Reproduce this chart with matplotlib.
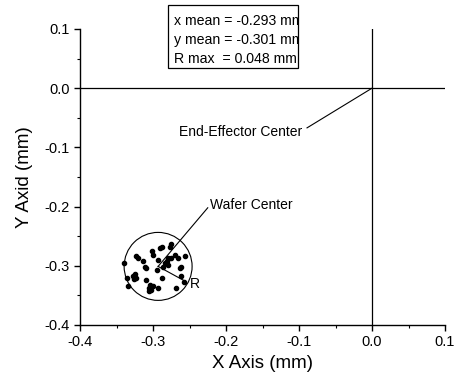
import matplotlib
matplotlib.use("Agg")
import matplotlib.pyplot as plt
from matplotlib.patches import Ellipse, Rectangle

plt.rcParams['font.family'] = ['Liberation Sans', 'DejaVu Sans']
plt.rcParams['axes.unicode_minus'] = False

# measured wafer centre positions (mm)
x_pts = [-0.302, -0.300, -0.323, -0.320, -0.314, -0.340, -0.311, -0.309, -0.325, -0.327,
         -0.323, -0.326, -0.336, -0.310, -0.304, -0.334, -0.306, -0.305, -0.303, -0.300,
         -0.290, -0.287, -0.277, -0.275, -0.270, -0.266, -0.256, -0.279, -0.281, -0.284,
         -0.280, -0.286, -0.293, -0.295, -0.263, -0.261, -0.288, -0.261, -0.257, -0.293,
         -0.268, -0.275]
y_pts = [-0.275, -0.281, -0.283, -0.286, -0.292, -0.296, -0.302, -0.304, -0.314, -0.318,
         -0.320, -0.322, -0.321, -0.324, -0.332, -0.334, -0.338, -0.343, -0.341, -0.334,
         -0.270, -0.268, -0.268, -0.264, -0.281, -0.287, -0.283, -0.287, -0.292, -0.296,
         -0.299, -0.302, -0.290, -0.307, -0.304, -0.302, -0.321, -0.318, -0.327, -0.338,
         -0.338, -0.287]

x_mean = -0.293
y_mean = -0.301
r_max = 0.048

fig = plt.figure(figsize=(4.55, 3.9), dpi=100)
ax = fig.add_axes([80 / 455, 65 / 390, 365 / 455, 296 / 390])

ax.set_xlim(-0.4, 0.1)
ax.set_ylim(-0.4, 0.1)
ax.spines['top'].set_visible(False)
ax.spines['right'].set_visible(False)
for s in ['left', 'bottom']:
    ax.spines[s].set_linewidth(1.0)

ax.set_xticks([-0.4, -0.3, -0.2, -0.1, 0.0, 0.1])
ax.set_yticks([-0.4, -0.3, -0.2, -0.1, 0.0, 0.1])
ax.set_xticks([-0.35, -0.25, -0.15, -0.05, 0.05], minor=True)
ax.set_yticks([-0.35, -0.25, -0.15, -0.05, 0.05], minor=True)
ax.set_xticklabels(["%.1f" % v for v in ax.get_xticks()])
ax.set_yticklabels(["%.1f" % v for v in ax.get_yticks()])
ax.tick_params(which='major', direction='out', length=4, width=1, labelsize=10.5)
ax.tick_params(which='minor', direction='out', length=2, width=0.8)

ax.set_xlabel("X Axis (mm)", fontsize=13.5)
ax.set_ylabel("Y Axid (mm)", fontsize=13.5, labelpad=8)

# crosshair of the end-effector
ax.axhline(0.0, color='black', lw=0.9)
ax.axvline(0.0, color='black', lw=0.9)

ax.scatter(x_pts, y_pts, s=9, color='black', zorder=3)

# circle drawn round in pixels
sx = 365 / 0.5
sy = 296 / 0.5
ax.add_patch(Ellipse((x_mean, y_mean), 2 * r_max * 0.97, 2 * r_max * 0.97 * sx / sy,
                     fill=False, ec='black', lw=0.8))

ax.plot([x_mean, -0.256], [y_mean, -0.326], color='black', lw=0.8)
ax.text(-0.249, -0.330, "R", fontsize=10, va='center', ha='left')

ax.plot([x_mean, -0.225], [y_mean, -0.202], color='black', lw=0.8)
ax.text(-0.222, -0.197, "Wafer Center", fontsize=10, va='center', ha='left')

ax.plot([0.0, -0.089], [0.0, -0.067], color='black', lw=0.8)
ax.text(-0.096, -0.074, "End-Effector Center", fontsize=10, va='center', ha='right')

# statistics box above the axes
box = Rectangle((168 / 455, 1 - 68 / 390), 130 / 455, 63 / 390, transform=fig.transFigure,
                fill=False, ec='black', lw=0.9)
fig.add_artist(box)
stats = ["x mean = %.3f mm" % x_mean, "y mean = %.3f mm" % y_mean, "R max  = %.3f mm" % r_max]
for i, line in enumerate(stats):
    t = fig.text(174 / 455, 1 - (21 + 19 * i) / 390, line, fontsize=10.2, va='center', ha='left')
    t.set_clip_path(box)

fig.savefig("out.png", dpi=100)
